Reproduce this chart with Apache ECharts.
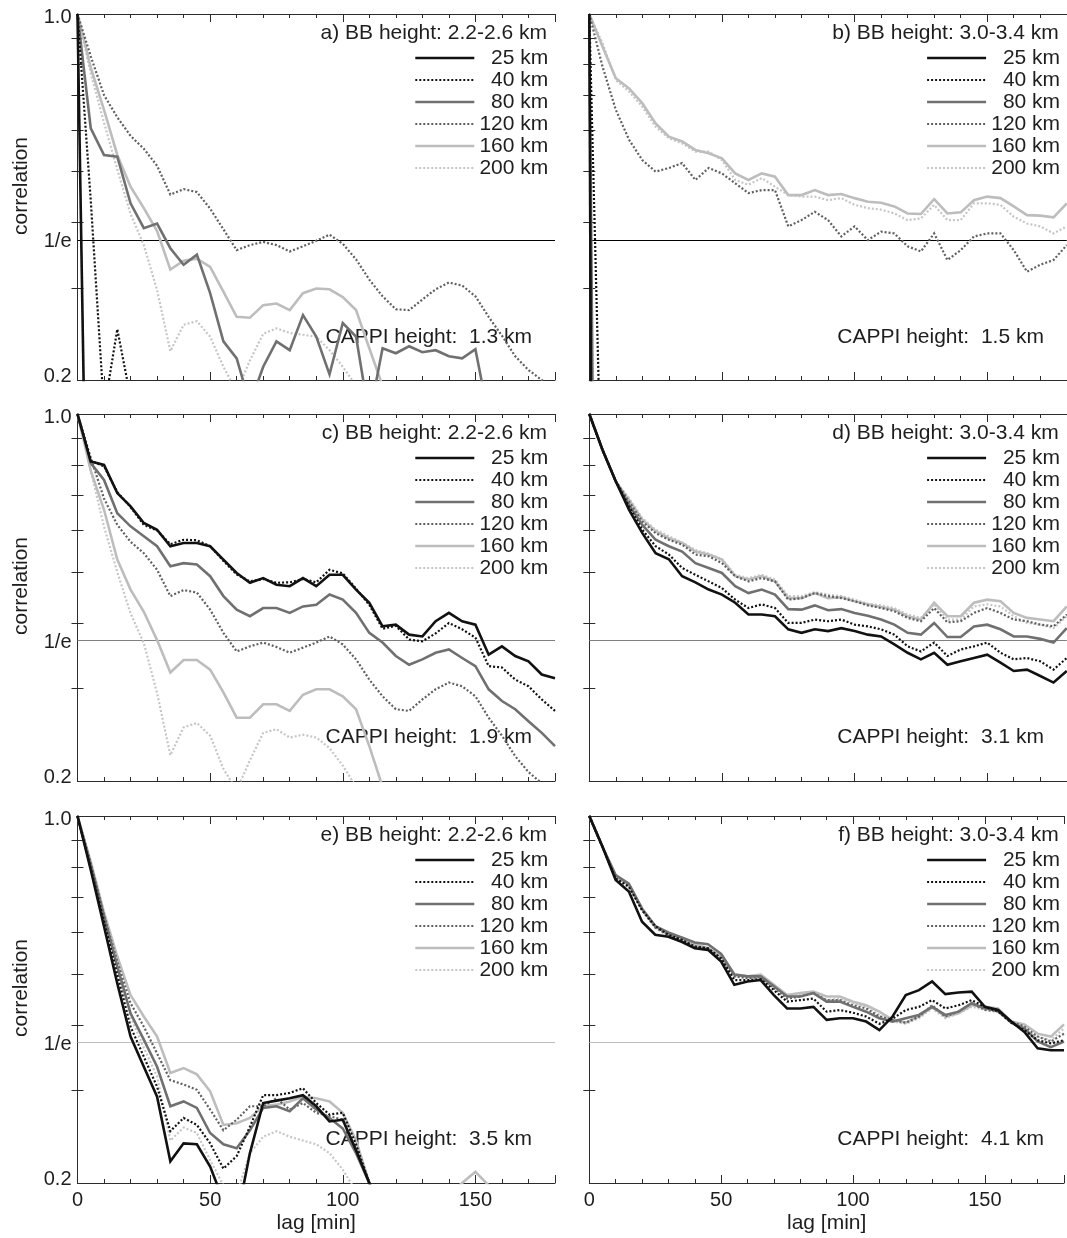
<!DOCTYPE html>
<html>
<head>
<meta charset="utf-8">
<title>Lag correlation by radar range</title>
<script src="https://cdn.jsdelivr.net/npm/echarts@6.0.0/dist/echarts.min.js"></script>
<style>
  html, body { margin: 0; padding: 0; background: #ffffff; }
  #chart { width: 1067px; height: 1238px; }
</style>
</head>
<body>
<div id="chart"></div>
<script>
// Lag in minutes (one sample every 5 min)
const LAGS = [0, 5, 10, 15, 20, 25, 30, 35, 40, 45, 50, 55, 60, 65, 70, 75, 80, 85, 90,
  95, 100, 105, 110, 115, 120, 125, 130, 135, 140, 145, 150, 155, 160, 165, 170, 175, 180];

const RANGES = ['25 km', '40 km', '80 km', '120 km', '160 km', '200 km'];

// a) BB 2.2-2.6 km, CAPPI 1.3 km
const A_25KM = [1.0, 0.03, null, null, null, null, null, null, null, null, null, null, null, null, null, null, null, null, null, null, null, null, null, null, null, null, null, null, null, null, null, null, null, null, null, null, null];
const A_40KM = [1.0, 0.44, 0.175, 0.25, 0.185, null, null, null, null, null, null, null, null, null, null, null, null, null, null, null, null, null, null, null, null, null, null, null, null, null, null, null, null, null, null, null, null];
const A_80KM = [1.0, 0.605, 0.538, 0.534, 0.435, 0.390, 0.398, 0.357, 0.332, 0.347, 0.293, 0.237, 0.220, 0.18, 0.212, 0.237, 0.228, 0.266, 0.242, 0.205, 0.257, 0.242, 0.17, 0.230, 0.225, 0.232, 0.226, 0.228, 0.222, 0.220, 0.229, 0.17, null, null, null, null, null];
const A_120KM = [1.0, 0.83, 0.70, 0.635, 0.585, 0.553, 0.513, 0.452, 0.463, 0.457, 0.425, 0.388, 0.354, 0.362, 0.367, 0.362, 0.352, 0.360, 0.369, 0.379, 0.364, 0.340, 0.311, 0.289, 0.273, 0.272, 0.285, 0.298, 0.307, 0.303, 0.289, 0.264, 0.243, 0.222, 0.209, 0.200, 0.192];
const A_160KM = [1.0, 0.79, 0.656, 0.538, 0.468, 0.426, 0.385, 0.325, 0.338, 0.341, 0.329, 0.295, 0.264, 0.263, 0.278, 0.280, 0.272, 0.293, 0.299, 0.298, 0.288, 0.272, 0.230, 0.195, null, null, null, null, null, null, null, null, null, null, null, null, null];
const A_200KM = [1.0, 0.77, 0.62, 0.505, 0.415, 0.362, 0.297, 0.227, 0.255, 0.259, 0.242, 0.212, 0.19, 0.218, 0.245, 0.251, 0.246, 0.244, 0.242, 0.228, 0.212, 0.195, null, null, null, null, null, null, null, null, null, null, null, null, null, null, null];

// b) BB 3.0-3.4 km, CAPPI 1.5 km
const B_25KM = [1.0, 0.000002, null, null, null, null, null, null, null, null, null, null, null, null, null, null, null, null, null, null, null, null, null, null, null, null, null, null, null, null, null, null, null, null, null, null, null];
const B_40KM = [1.0, 0.10, null, null, null, null, null, null, null, null, null, null, null, null, null, null, null, null, null, null, null, null, null, null, null, null, null, null, null, null, null, null, null, null, null, null, null];
const B_80KM = [1.0, 0.0012, null, null, null, null, null, null, null, null, null, null, null, null, null, null, null, null, null, null, null, null, null, null, null, null, null, null, null, null, null, null, null, null, null, null, null];
const B_120KM = [1.0, 0.793, 0.656, 0.575, 0.526, 0.500, 0.508, 0.519, 0.482, 0.508, 0.496, 0.475, 0.455, 0.461, 0.461, 0.393, 0.404, 0.419, 0.404, 0.376, 0.393, 0.370, 0.384, 0.381, 0.360, 0.352, 0.381, 0.339, 0.354, 0.376, 0.381, 0.381, 0.354, 0.322, 0.332, 0.339, 0.362];
const B_160KM = [1.0, 0.866, 0.754, 0.721, 0.675, 0.618, 0.583, 0.571, 0.550, 0.542, 0.530, 0.496, 0.482, 0.496, 0.489, 0.451, 0.451, 0.461, 0.451, 0.453, 0.445, 0.438, 0.436, 0.429, 0.416, 0.415, 0.443, 0.416, 0.418, 0.441, 0.448, 0.445, 0.429, 0.413, 0.412, 0.409, 0.435];
const B_200KM = [1.0, 0.879, 0.748, 0.711, 0.665, 0.609, 0.579, 0.566, 0.546, 0.546, 0.526, 0.482, 0.472, 0.486, 0.468, 0.451, 0.448, 0.448, 0.441, 0.445, 0.432, 0.426, 0.423, 0.416, 0.404, 0.407, 0.432, 0.404, 0.404, 0.435, 0.435, 0.432, 0.410, 0.398, 0.393, 0.381, 0.393];

// c) BB 2.2-2.6 km, CAPPI 1.9 km
const C_25KM = [1.0, 0.812, 0.800, 0.707, 0.667, 0.620, 0.602, 0.560, 0.568, 0.568, 0.560, 0.528, 0.498, 0.477, 0.487, 0.473, 0.470, 0.487, 0.470, 0.494, 0.494, 0.463, 0.437, 0.394, 0.397, 0.380, 0.377, 0.403, 0.418, 0.403, 0.397, 0.348, 0.361, 0.346, 0.338, 0.319, 0.314];
const C_40KM = [1.0, 0.815, 0.795, 0.710, 0.665, 0.615, 0.600, 0.565, 0.576, 0.575, 0.560, 0.525, 0.495, 0.480, 0.485, 0.477, 0.478, 0.485, 0.478, 0.505, 0.497, 0.465, 0.433, 0.390, 0.395, 0.372, 0.369, 0.382, 0.400, 0.389, 0.375, 0.331, 0.329, 0.312, 0.303, 0.286, 0.272];
const C_80KM = [1.0, 0.806, 0.749, 0.647, 0.611, 0.585, 0.560, 0.513, 0.520, 0.517, 0.491, 0.450, 0.424, 0.412, 0.427, 0.427, 0.418, 0.430, 0.433, 0.453, 0.443, 0.418, 0.383, 0.367, 0.346, 0.333, 0.341, 0.351, 0.356, 0.343, 0.331, 0.299, 0.284, 0.274, 0.260, 0.247, 0.233];
const C_120KM = [1.0, 0.825, 0.69, 0.615, 0.571, 0.543, 0.505, 0.450, 0.462, 0.457, 0.424, 0.383, 0.353, 0.361, 0.367, 0.360, 0.351, 0.359, 0.367, 0.377, 0.364, 0.341, 0.312, 0.290, 0.274, 0.272, 0.286, 0.299, 0.308, 0.303, 0.290, 0.264, 0.244, 0.223, 0.208, 0.198, 0.189];
const C_160KM = [1.0, 0.78, 0.657, 0.528, 0.463, 0.42, 0.371, 0.322, 0.34, 0.34, 0.326, 0.295, 0.264, 0.264, 0.280, 0.280, 0.272, 0.292, 0.299, 0.299, 0.290, 0.274, 0.233, 0.195, null, null, null, null, null, null, null, null, null, null, null, null, null];
const C_200KM = [1.0, 0.78, 0.61, 0.50, 0.417, 0.366, 0.294, 0.224, 0.253, 0.258, 0.244, 0.211, 0.192, 0.219, 0.247, 0.251, 0.242, 0.245, 0.242, 0.231, 0.214, 0.195, null, null, null, null, null, null, null, null, null, null, null, null, null, null, null];

// d) BB 3.0-3.4 km, CAPPI 3.1 km
const D_25KM = [1.0, 0.854, 0.744, 0.657, 0.593, 0.543, 0.529, 0.491, 0.478, 0.463, 0.453, 0.437, 0.415, 0.415, 0.412, 0.389, 0.383, 0.389, 0.386, 0.391, 0.386, 0.380, 0.377, 0.364, 0.351, 0.341, 0.351, 0.333, 0.338, 0.343, 0.348, 0.336, 0.324, 0.326, 0.317, 0.308, 0.324];
const D_40KM = [1.0, 0.854, 0.744, 0.667, 0.602, 0.560, 0.540, 0.509, 0.494, 0.480, 0.466, 0.443, 0.427, 0.434, 0.427, 0.400, 0.400, 0.406, 0.403, 0.406, 0.397, 0.394, 0.389, 0.380, 0.361, 0.353, 0.367, 0.346, 0.356, 0.361, 0.367, 0.351, 0.341, 0.343, 0.338, 0.326, 0.343];
const D_80KM = [1.0, 0.854, 0.744, 0.671, 0.615, 0.576, 0.560, 0.547, 0.520, 0.509, 0.498, 0.470, 0.456, 0.463, 0.453, 0.425, 0.424, 0.432, 0.423, 0.425, 0.418, 0.413, 0.406, 0.397, 0.383, 0.380, 0.400, 0.376, 0.376, 0.394, 0.397, 0.389, 0.377, 0.377, 0.373, 0.367, 0.391];
const D_120KM = [1.0, 0.854, 0.744, 0.681, 0.624, 0.593, 0.576, 0.564, 0.540, 0.536, 0.520, 0.491, 0.480, 0.487, 0.480, 0.443, 0.446, 0.456, 0.450, 0.446, 0.440, 0.432, 0.427, 0.421, 0.409, 0.403, 0.427, 0.401, 0.403, 0.418, 0.427, 0.418, 0.406, 0.403, 0.397, 0.394, 0.415];
const D_160KM = [1.0, 0.854, 0.744, 0.686, 0.629, 0.598, 0.580, 0.568, 0.547, 0.540, 0.528, 0.491, 0.484, 0.491, 0.480, 0.446, 0.446, 0.456, 0.446, 0.448, 0.440, 0.434, 0.429, 0.424, 0.412, 0.406, 0.437, 0.412, 0.412, 0.437, 0.443, 0.440, 0.418, 0.409, 0.406, 0.403, 0.430];
const D_200KM = [1.0, 0.854, 0.744, 0.691, 0.633, 0.602, 0.585, 0.569, 0.551, 0.542, 0.529, 0.494, 0.487, 0.494, 0.484, 0.450, 0.450, 0.458, 0.453, 0.450, 0.443, 0.435, 0.432, 0.427, 0.415, 0.409, 0.434, 0.406, 0.406, 0.430, 0.434, 0.430, 0.412, 0.400, 0.397, 0.391, 0.412];

// e) BB 2.2-2.6 km, CAPPI 3.5 km
const E_25KM = [1.0, 0.789, 0.616, 0.480, 0.380, 0.333, 0.292, 0.220, 0.238, 0.237, 0.215, 0.185, 0.170, 0.228, 0.284, 0.287, 0.290, 0.294, 0.280, 0.262, 0.264, 0.231, 0.200, 0.170, null, null, null, null, null, null, null, null, null, null, null, null, null];
const E_40KM = [1.0, 0.795, 0.630, 0.498, 0.397, 0.348, 0.305, 0.251, 0.266, 0.258, 0.238, 0.213, 0.225, 0.256, 0.294, 0.294, 0.297, 0.303, 0.284, 0.270, 0.272, 0.237, 0.200, 0.170, null, null, null, null, null, null, null, null, null, null, null, null, null];
const E_80KM = [1.0, 0.806, 0.643, 0.517, 0.421, 0.375, 0.333, 0.280, 0.286, 0.278, 0.249, 0.237, 0.233, 0.252, 0.278, 0.280, 0.274, 0.290, 0.276, 0.266, 0.254, 0.228, 0.200, 0.170, null, null, null, null, null, null, null, null, null, null, null, null, null];
const E_120KM = [1.0, 0.812, 0.647, 0.528, 0.440, 0.397, 0.353, 0.314, 0.308, 0.301, 0.276, 0.252, 0.264, 0.280, 0.280, 0.290, 0.276, 0.284, 0.272, 0.268, 0.264, 0.231, 0.200, 0.170, null, null, null, null, null, null, null, null, null, null, null, null, null];
const E_160KM = [1.0, 0.818, 0.655, 0.540, 0.456, 0.415, 0.380, 0.324, 0.331, 0.322, 0.299, 0.258, 0.260, 0.266, 0.280, 0.282, 0.286, 0.292, 0.290, 0.286, 0.272, 0.241, 0.200, 0.170, null, null, null, null, 0.19, 0.20, 0.21, 0.198, 0.19, null, null, null, null];
const E_200KM = [1.0, 0.800, 0.636, 0.507, 0.415, 0.362, 0.319, 0.241, 0.255, 0.249, 0.221, 0.198, 0.190, 0.228, 0.245, 0.251, 0.245, 0.241, 0.237, 0.228, 0.212, 0.193, null, null, null, null, null, null, null, null, null, null, null, null, null, null, null];

// f) BB 3.0-3.4 km, CAPPI 4.1 km
const F_25KM = [1.0, 0.874, 0.755, 0.718, 0.629, 0.594, 0.589, 0.576, 0.560, 0.556, 0.528, 0.477, 0.484, 0.487, 0.456, 0.430, 0.430, 0.433, 0.409, 0.412, 0.412, 0.406, 0.391, 0.415, 0.456, 0.466, 0.484, 0.458, 0.461, 0.463, 0.433, 0.427, 0.406, 0.388, 0.361, 0.358, 0.358];
const F_40KM = [1.0, 0.874, 0.760, 0.733, 0.662, 0.617, 0.594, 0.581, 0.564, 0.560, 0.536, 0.487, 0.487, 0.489, 0.466, 0.443, 0.446, 0.449, 0.424, 0.427, 0.422, 0.415, 0.402, 0.411, 0.427, 0.433, 0.446, 0.430, 0.436, 0.446, 0.433, 0.424, 0.404, 0.391, 0.374, 0.369, 0.374];
const F_80KM = [1.0, 0.874, 0.772, 0.743, 0.666, 0.617, 0.600, 0.587, 0.574, 0.570, 0.546, 0.499, 0.495, 0.495, 0.474, 0.453, 0.453, 0.460, 0.443, 0.443, 0.433, 0.424, 0.412, 0.406, 0.412, 0.418, 0.433, 0.418, 0.424, 0.440, 0.430, 0.427, 0.404, 0.394, 0.372, 0.363, 0.372];
const F_120KM = [1.0, 0.874, 0.760, 0.738, 0.662, 0.613, 0.594, 0.581, 0.564, 0.560, 0.532, 0.495, 0.491, 0.493, 0.470, 0.449, 0.453, 0.460, 0.446, 0.446, 0.436, 0.430, 0.415, 0.409, 0.404, 0.415, 0.436, 0.415, 0.424, 0.440, 0.427, 0.424, 0.406, 0.397, 0.380, 0.372, 0.385];
const F_160KM = [1.0, 0.874, 0.766, 0.738, 0.666, 0.617, 0.594, 0.587, 0.570, 0.560, 0.540, 0.499, 0.495, 0.499, 0.477, 0.456, 0.460, 0.463, 0.453, 0.453, 0.443, 0.436, 0.424, 0.409, 0.404, 0.415, 0.433, 0.415, 0.421, 0.436, 0.433, 0.430, 0.406, 0.401, 0.385, 0.380, 0.401];
const F_200KM = [1.0, 0.874, 0.766, 0.738, 0.662, 0.613, 0.589, 0.576, 0.560, 0.556, 0.532, 0.495, 0.495, 0.497, 0.474, 0.453, 0.456, 0.460, 0.446, 0.449, 0.440, 0.433, 0.418, 0.406, 0.402, 0.412, 0.430, 0.412, 0.421, 0.433, 0.428, 0.424, 0.404, 0.391, 0.380, 0.374, 0.394];

// y-axis tick marks and labels (correlation, log scale)
const Y_MINOR_TICKS = [0.3, 0.4, 0.5, 0.6, 0.7, 0.8, 0.9];
const Y_LABEL_VALUES = [0.2, Math.exp(-1), 1.0];
const Y_LABEL_TEXT = ['0.2', '1/e', '1.0'];

const PANELS = [
  { row: 0, col: 0, bb: 'a) BB height: 2.2-2.6 km', cappi: 'CAPPI height:  1.3 km', refColor: '#000000', series: [A_25KM, A_40KM, A_80KM, A_120KM, A_160KM, A_200KM] },
  { row: 0, col: 1, bb: 'b) BB height: 3.0-3.4 km', cappi: 'CAPPI height:  1.5 km', refColor: '#000000', series: [B_25KM, B_40KM, B_80KM, B_120KM, B_160KM, B_200KM] },
  { row: 1, col: 0, bb: 'c) BB height: 2.2-2.6 km', cappi: 'CAPPI height:  1.9 km', refColor: '#808080', series: [C_25KM, C_40KM, C_80KM, C_120KM, C_160KM, C_200KM] },
  { row: 1, col: 1, bb: 'd) BB height: 3.0-3.4 km', cappi: 'CAPPI height:  3.1 km', refColor: '#808080', series: [D_25KM, D_40KM, D_80KM, D_120KM, D_160KM, D_200KM] },
  { row: 2, col: 0, bb: 'e) BB height: 2.2-2.6 km', cappi: 'CAPPI height:  3.5 km', refColor: '#bdbdbd', series: [E_25KM, E_40KM, E_80KM, E_120KM, E_160KM, E_200KM] },
  { row: 2, col: 1, bb: 'f) BB height: 3.0-3.4 km', cappi: 'CAPPI height:  4.1 km', refColor: '#bdbdbd', series: [F_25KM, F_40KM, F_80KM, F_120KM, F_160KM, F_200KM] }
];

// ---- layout and styling ----
const W = 1067;
const FONT = '"Liberation Sans", Arial, Helvetica, sans-serif';
const TEXT = '#1e1e1e';
const FRAME = '#2b2b2b';
const FS = 21;        // annotation / legend / axis-name size
const FS_TICK = 20;   // tick label size
const COLS = [{ left: 77.5, width: 477.5 }, { left: 589.3, width: 477.5 }];
const ROWS = [{ top: 14, height: 366 }, { top: 414, height: 367 }, { top: 816, height: 367 }];

const DOT = [2, 2];
const LINE_STYLE = {
  '25 km':  { color: '#111111', width: 2.6, type: 'solid' },
  '40 km':  { color: '#111111', width: 2.2, type: DOT },
  '80 km':  { color: '#707070', width: 2.6, type: 'solid' },
  '120 km': { color: '#606060', width: 2.2, type: DOT },
  '160 km': { color: '#bdbdbd', width: 2.6, type: 'solid' },
  '200 km': { color: '#c6c6c6', width: 2.2, type: DOT }
};

const grids = [], xAxes = [], yAxes = [], series = [], legends = [], titles = [], graphics = [];

PANELS.forEach((p, i) => {
  const col = COLS[p.col], row = ROWS[p.row];
  const bottomRow = p.row === 2;
  const leftCol = p.col === 0;
  const textRight = col.left + col.width - 8;
  grids.push({ left: col.left, top: row.top, width: col.width, height: row.height, containLabel: false });

  const xBase = { gridIndex: i, type: 'value', min: 0, max: 180, splitLine: { show: false } };
  // bottom axis: frame line, minor ticks every 10 min, labels on the last row
  xAxes.push(Object.assign({}, xBase, {
    position: 'bottom', interval: 10,
    axisLine: { show: true, lineStyle: { color: FRAME, width: 1 } },
    axisTick: { show: true, inside: true, length: 4, lineStyle: { color: FRAME, width: 1 } },
    axisLabel: {
      show: bottomRow, interval: 0, margin: 7, fontSize: FS_TICK, fontFamily: FONT, color: TEXT,
      formatter: v => (v % 50 === 0 && v < 180 ? String(v) : '')
    },
    name: bottomRow ? 'lag [min]' : '', nameLocation: 'middle', nameGap: 30,
    nameTextStyle: { fontSize: FS, fontFamily: FONT, color: TEXT }
  }));
  // bottom axis: longer ticks every 50 min
  xAxes.push(Object.assign({}, xBase, {
    position: 'bottom', interval: 50,
    axisLine: { show: false },
    axisTick: { show: true, inside: true, length: 8, lineStyle: { color: FRAME, width: 1 } },
    axisLabel: { show: false }
  }));
  // top axis: frame line and minor ticks
  xAxes.push(Object.assign({}, xBase, {
    position: 'top', interval: 10,
    axisLine: { show: true, lineStyle: { color: FRAME, width: 1 } },
    axisTick: { show: true, inside: true, length: 4, lineStyle: { color: FRAME, width: 1 } },
    axisLabel: { show: false }
  }));
  // top axis: longer ticks every 50 min
  xAxes.push(Object.assign({}, xBase, {
    position: 'top', interval: 50,
    axisLine: { show: false },
    axisTick: { show: true, inside: true, length: 8, lineStyle: { color: FRAME, width: 1 } },
    axisLabel: { show: false }
  }));

  const yBase = { gridIndex: i, type: 'log', logBase: 10, min: 0.2, max: 1.0, splitLine: { show: false }, minorTick: { show: false } };
  yAxes.push(Object.assign({}, yBase, {
    position: 'left',
    axisLine: { show: true, lineStyle: { color: FRAME, width: 1 } },
    axisTick: { show: true, inside: true, length: 6, customValues: Y_MINOR_TICKS, lineStyle: { color: FRAME, width: 1 } },
    axisLabel: {
      show: leftCol, customValues: Y_LABEL_VALUES, margin: 6, fontSize: FS_TICK, fontFamily: FONT, color: TEXT,
      // end labels sit slightly inside the frame
      formatter: v => (v > 0.9 ? '{hi|' + Y_LABEL_TEXT[2] + '}' : (v < 0.25 ? '{lo|' + Y_LABEL_TEXT[0] + '}' : Y_LABEL_TEXT[1])),
      rich: {
        hi: { fontSize: FS_TICK, fontFamily: FONT, color: TEXT, padding: [6, 0, 0, 0] },
        lo: { fontSize: FS_TICK, fontFamily: FONT, color: TEXT, padding: [0, 0, 8, 0] }
      }
    }
  }));
  yAxes.push(Object.assign({}, yBase, {
    position: 'right',
    axisLine: { show: true, lineStyle: { color: FRAME, width: 1 } },
    axisTick: { show: true, inside: true, length: 6, customValues: Y_MINOR_TICKS, lineStyle: { color: FRAME, width: 1 } },
    axisLabel: { show: false }
  }));

  // draw far ranges first so the near-range black curves sit on top
  for (let k = RANGES.length - 1; k >= 0; k--) {
    const name = RANGES[k];
    const st = LINE_STYLE[name];
    const s = {
      type: 'line', name: name,
      xAxisIndex: 4 * i, yAxisIndex: 2 * i,
      data: LAGS.map((t, j) => [t, p.series[k][j]]),
      showSymbol: false, symbol: 'none', connectNulls: false, clip: true,
      lineStyle: { color: st.color, width: st.width, type: st.type, cap: 'butt', join: 'miter' },
      itemStyle: { color: st.color },
      emphasis: { disabled: true },
      z: 10 + (RANGES.length - k)
    };
    if (k === RANGES.length - 1) {
      // 1/e reference line
      s.markLine = {
        silent: true, symbol: 'none', label: { show: false }, animation: false,
        lineStyle: { color: p.refColor, width: 1, type: 'solid' },
        emphasis: { disabled: true },
        data: [{ yAxis: Math.exp(-1) }]
      };
    }
    series.push(s);
  }

  // range key: line sample, then right-aligned range text
  legends.push({
    orient: 'vertical', left: textRight - 133, top: row.top + 33,
    padding: 0, itemGap: 0, itemWidth: 59, itemHeight: 14, selectedMode: false,
    itemStyle: { opacity: 0 },
    data: RANGES.map(n => ({ name: n, lineStyle: { width: LINE_STYLE[n].width } })),
    formatter: n => '{r|' + n + '}',
    textStyle: {
      color: TEXT, fontSize: FS, fontFamily: FONT, lineHeight: 22,
      rich: { r: { width: 69, align: 'right', fontSize: FS, fontFamily: FONT, lineHeight: 22, color: TEXT } }
    }
  });

  // bright band text and CAPPI level
  titles.push({
    text: p.bb, right: W - textRight, top: row.top + 8, padding: 0,
    textStyle: { fontSize: FS, fontWeight: 'normal', fontFamily: FONT, color: TEXT, lineHeight: 22 }
  });
  titles.push({
    text: p.cappi, left: col.left + 248, top: row.top + 312, padding: 0,
    textStyle: { fontSize: FS, fontWeight: 'normal', fontFamily: FONT, color: TEXT, lineHeight: 22 }
  });

  if (leftCol) {
    graphics.push({
      type: 'text', x: 21, y: row.top + 172, rotation: Math.PI / 2,
      style: {
        text: 'correlation', fill: TEXT, fontSize: FS, fontFamily: FONT,
        textAlign: 'center', textVerticalAlign: 'middle', align: 'center', verticalAlign: 'middle'
      }
    });
  }
});

const chart = echarts.init(document.getElementById('chart'), null, { renderer: 'canvas', width: 1067, height: 1238 });
chart.setOption({
  backgroundColor: '#ffffff',
  animation: false,
  textStyle: { fontFamily: FONT },
  grid: grids,
  xAxis: xAxes,
  yAxis: yAxes,
  legend: legends,
  title: titles,
  graphic: { elements: graphics },
  series: series
});
</script>
</body>
</html>
